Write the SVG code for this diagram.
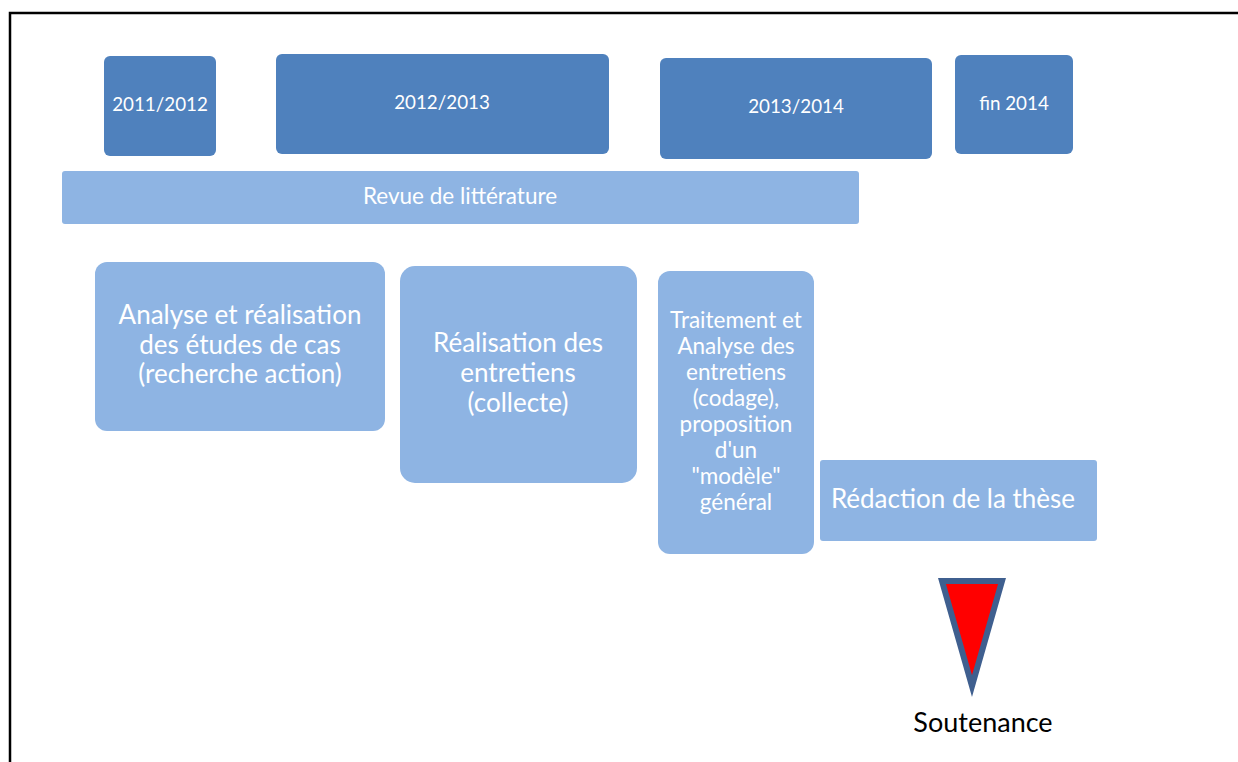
<svg xmlns="http://www.w3.org/2000/svg" width="1238" height="762" viewBox="0 0 1238 762">
<style>
.dark{fill:#4F81BD}
.light{fill:#8EB4E3}
text{font-family:Lato,"Open Sans","Liberation Sans",sans-serif;fill:#fff;text-anchor:middle}
.s18{font-size:18.8px}
.s20{font-size:22.5px}
.s22{font-size:22.5px}
.s24{font-size:26px}
.s26{font-size:26px}
</style>
<rect width="1238" height="762" fill="#fff"/>
<path d="M10,762 V13 H1238" fill="none" stroke="#000" stroke-width="2.5"/>
<g id="y2011"><rect class="dark" x="104" y="56" width="112" height="100" rx="6"/><text class="s18" x="160" y="111">2011/2012</text></g>
<g id="y2012"><rect class="dark" x="276" y="54" width="333" height="100" rx="6"/><text class="s18" x="442" y="109">2012/2013</text></g>
<g id="y2013"><rect class="dark" x="660" y="58" width="272" height="101" rx="6"/><text class="s18" x="796" y="113">2013/2014</text></g>
<g id="y2014"><rect class="dark" x="955" y="55" width="118" height="99" rx="6"/><text class="s18" x="1014" y="110">fin 2014</text></g>
<g id="revue"><rect class="light" x="62" y="171" width="797" height="53" rx="3"/><text class="s22" x="460" y="204">Revue de littérature</text></g>
<g id="analyse"><rect class="light" x="95" y="262" width="290" height="169" rx="12"/>
<text class="s24" x="240"><tspan x="240" y="324">Analyse et réalisation</tspan><tspan x="240" y="354">des études de cas</tspan><tspan x="240" y="383">(recherche action)</tspan></text></g>
<g id="realisation"><rect class="light" x="400" y="266" width="237" height="217" rx="15"/>
<text class="s24" x="518"><tspan x="518" y="352">Réalisation des</tspan><tspan x="518" y="382">entretiens</tspan><tspan x="518" y="412">(collecte)</tspan></text></g>
<g id="traitement"><rect class="light" x="658" y="271" width="156" height="283" rx="12"/>
<text class="s20" x="736"><tspan x="736" y="328">Traitement et</tspan><tspan x="736" y="354">Analyse des</tspan><tspan x="736" y="380">entretiens</tspan><tspan x="736" y="406">(codage),</tspan><tspan x="736" y="432">proposition</tspan><tspan x="736" y="458">d'un</tspan><tspan x="736" y="484">"modèle"</tspan><tspan x="736" y="510">général</tspan></text></g>
<g id="redaction"><rect class="light" x="820" y="460" width="277" height="81" rx="3"/><text class="s26" x="953" y="508">Rédaction de la thèse</text></g>
<g id="soutenance"><polygon points="942,581 1002,581 972,686" fill="#FF0000" stroke="#3F5F8F" stroke-width="6" stroke-linejoin="miter"/>
<text x="983" y="732" style="fill:#000;font-size:27px">Soutenance</text></g>
<g id="connectors"></g>
</svg>
